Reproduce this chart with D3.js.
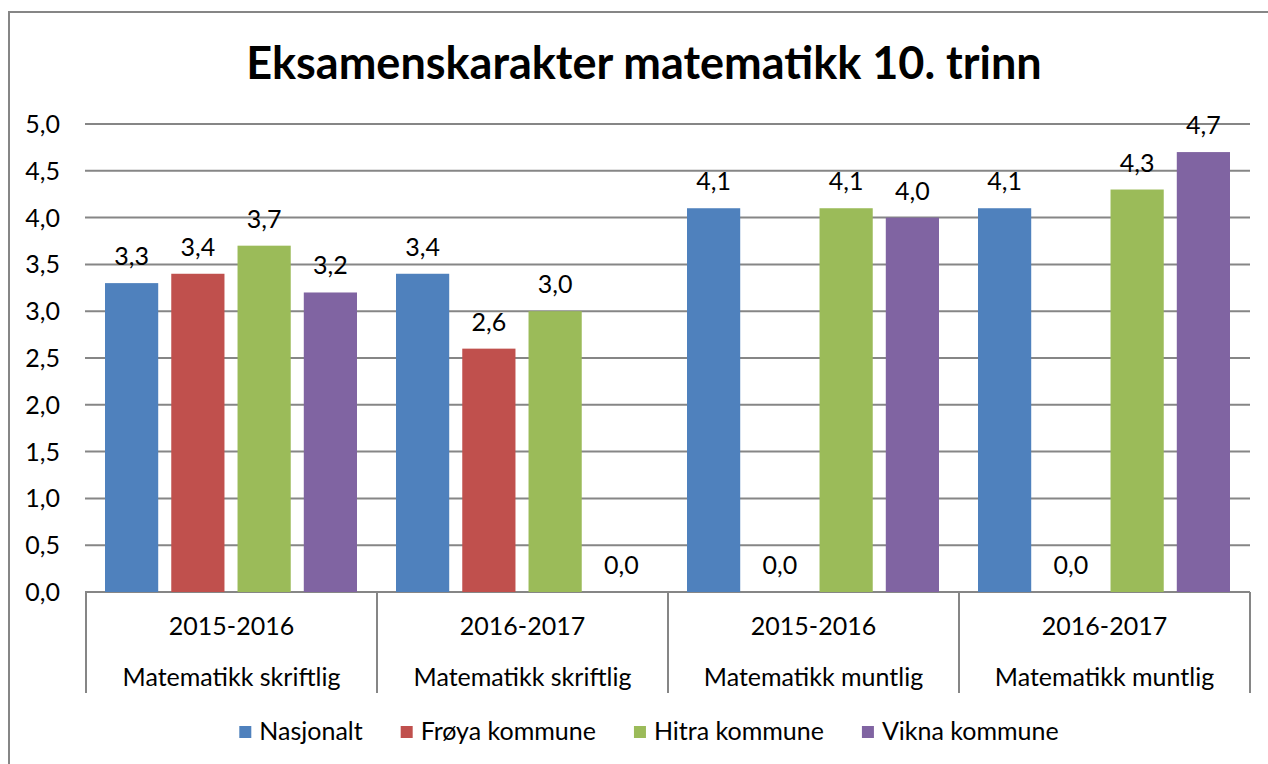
<!DOCTYPE html>
<html>
<head>
<meta charset="utf-8">
<script src="https://cdn.jsdelivr.net/npm/d3@7"></script>
<style>
  body { margin: 0; background: #fff; }
  svg text { font-family: Lato, "Open Sans", sans-serif; fill: #000; }
</style>
</head>
<body>
<script>
'use strict';

var years = ['2015-2016', '2016-2017', '2015-2016', '2016-2017'];
var subjects = ['Matematikk skriftlig', 'Matematikk skriftlig', 'Matematikk muntlig', 'Matematikk muntlig'];
var seriesNames = ['Nasjonalt', 'Frøya kommune', 'Hitra kommune', 'Vikna kommune'];
var nasjonalt = [3.3, 3.4, 4.1, 4.1];
var froya = [3.4, 2.6, 0.0, 0.0];
var hitra = [3.7, 3.0, 4.1, 4.3];
var vikna = [3.2, 0.0, 4.0, 4.7];
var yTicks = [0, 0.5, 1, 1.5, 2, 2.5, 3, 3.5, 4, 4.5, 5];
var colors = ['#4F81BD', '#C0504D', '#9BBB59', '#8064A2'];

var values = [nasjonalt, froya, hitra, vikna];

var width = 1268,
    height = 764,
    fs = '25px';

var svg = d3.select('body').append('svg')
    .attr('width', width)
    .attr('height', height);

// chart frame
svg.append('rect')
    .attr('x', 9).attr('y', 12)
    .attr('width', 1300).attr('height', 800)
    .attr('fill', 'none')
    .attr('stroke', '#868686')
    .attr('stroke-width', 2);

svg.append('text')
    .attr('x', 644).attr('y', 79)
    .attr('text-anchor', 'middle')
    .style('font-size', '45px')
    .style('font-weight', 'bold')
    .text('Eksamenskarakter matematikk 10. trinn');

var groups = d3.range(years.length);

var x0 = d3.scaleBand()
    .domain(groups)
    .range([86, 1250]);

var x1 = d3.scaleBand()
    .domain(d3.range(seriesNames.length))
    .range([19, 271])
    .paddingInner(0.197);

var y = d3.scaleLinear()
    .domain([0, 5])
    .range([592, 124]);

// gridlines
svg.append('g').selectAll('line')
  .data(yTicks)
  .enter().append('line')
    .attr('x1', 85).attr('x2', 1250)
    .attr('y1', function(d) { return y(d); })
    .attr('y2', function(d) { return y(d); })
    .attr('stroke', '#868686')
    .attr('stroke-width', 2);

// y tick labels
svg.append('g').selectAll('text')
  .data(yTicks)
  .enter().append('text')
    .attr('x', 60)
    .attr('y', function(d) { return y(d) + 9; })
    .attr('text-anchor', 'end')
    .style('font-size', fs)
    .text(function(d) { return d3.format('.1f')(d).replace('.', ','); });

// bars
var group = svg.append('g').selectAll('g')
  .data(groups)
  .enter().append('g')
    .attr('transform', function(d) { return 'translate(' + x0(d) + ',0)'; });

group.selectAll('rect')
  .data(function(g) { return values.map(function(v, s) { return {s: s, v: v[g]}; }); })
  .enter().append('rect')
    .attr('x', function(d) { return x1(d.s); })
    .attr('width', x1.bandwidth())
    .attr('y', function(d) { return y(d.v); })
    .attr('height', function(d) { return y(0) - y(d.v); })
    .attr('fill', function(d) { return colors[d.s]; });

group.selectAll('text')
  .data(function(g) { return values.map(function(v, s) { return {s: s, v: v[g]}; }); })
  .enter().append('text')
    .attr('x', function(d) { return x1(d.s) + x1.bandwidth() / 2; })
    .attr('y', function(d) { return y(d.v) - 18; })
    .attr('text-anchor', 'middle')
    .style('font-size', fs)
    .text(function(d) { return d3.format('.1f')(d.v).replace('.', ','); });

// category axis
var bounds = groups.map(function(d) { return x0(d); }).concat([x0.range()[1]]);
svg.append('g').selectAll('line')
  .data(bounds)
  .enter().append('line')
    .attr('x1', function(d) { return d; })
    .attr('x2', function(d) { return d; })
    .attr('y1', 592).attr('y2', 693)
    .attr('stroke', '#868686')
    .attr('stroke-width', 2);

svg.append('g').selectAll('text')
  .data(groups)
  .enter().append('text')
    .attr('x', function(d) { return x0(d) + x0.bandwidth() / 2; })
    .attr('y', 635)
    .attr('text-anchor', 'middle')
    .style('font-size', fs)
    .text(function(d) { return years[d]; });

svg.append('g').selectAll('text')
  .data(groups)
  .enter().append('text')
    .attr('x', function(d) { return x0(d) + x0.bandwidth() / 2; })
    .attr('y', 686)
    .attr('text-anchor', 'middle')
    .style('font-size', fs)
    .text(function(d) { return subjects[d]; });

// legend
var legend = svg.append('g');
var items = legend.selectAll('g')
  .data(seriesNames)
  .enter().append('g');

items.append('rect')
    .attr('width', 12).attr('height', 12)
    .attr('y', 726)
    .attr('fill', function(d, i) { return colors[i]; });

items.append('text')
    .attr('x', 20)
    .attr('y', 740)
    .style('font-size', fs)
    .text(function(d) { return d; });

var pos = 0;
items.each(function() {
  var w = this.querySelector('text').getComputedTextLength() + 20;
  d3.select(this).attr('transform', 'translate(' + pos + ',0)');
  pos += w + 38;
});
var total = pos - 38;
legend.attr('transform', 'translate(' + (649 - total / 2) + ',0)');
</script>
</body>
</html>
